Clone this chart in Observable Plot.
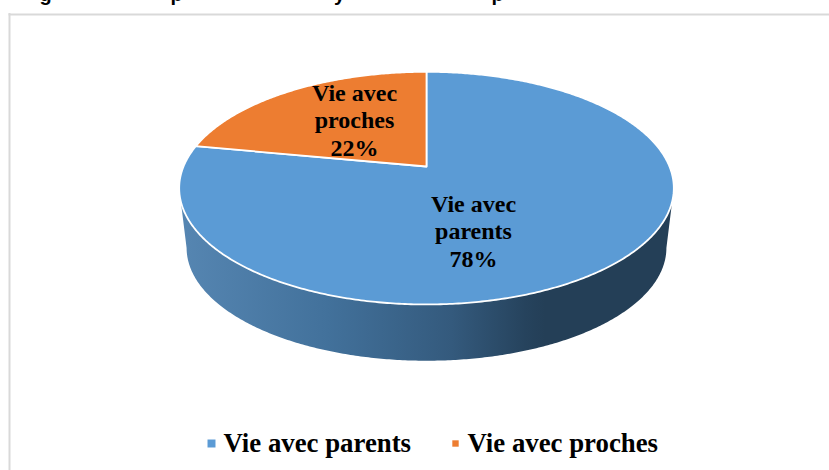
<!DOCTYPE html>
<html>
<head>
<meta charset="utf-8">
<script src="https://cdn.jsdelivr.net/npm/d3@7"></script>
<script src="https://cdn.jsdelivr.net/npm/@observablehq/plot@0.6"></script>
<style>html,body{margin:0;padding:0;background:#fff}svg{display:block}</style>
</head>
<body>
<div id="chart"></div>
<script>
// Data
const names = ["Vie avec parents", "Vie avec proches"];
const values = [78, 22];
const labelLines = [["Vie avec", "parents"], ["Vie avec", "proches"]];
const colors = ["#5b9bd5", "#ed7d31"];
// The title is cropped by the top of the picture: only these descenders show.
const titleGlyphs = ["g", "p", "y", "p"];
const titleGlyphX = [45, 176, 339, 497];

// Layout
const W = 829, H = 470;
const cx = 426, cy = 166;     // point where the slices meet
const A = 243, B = 112.3, P = 0.186;   // tilted-disc projection
const depthShift = 60.4, depthScale = 0.97;
const labelAt = [[473, 230], [354, 119]];
const legendSwatchX = [211, 455], legendTextX = [223, 467], legendY = 443;
const serif = "'Liberation Serif','Times New Roman',serif";

function rim(theta, scale = 1, shift = 0, radius = 1) {
  const u = radius * Math.sin(theta), v = radius * Math.cos(theta), d = 1 + P * v;
  return {x: cx + scale * A * u / d, y: cy + shift - scale * B * v / d};
}

const total = d3.sum(values);
let acc = 0;
const slices = values.map((v, i) => {
  const a0 = acc / total * 2 * Math.PI;
  acc += v;
  const a1 = acc / total * 2 * Math.PI;
  const n = Math.ceil((a1 - a0) / 0.01);
  const pts = [rim(0, 1, 0, 0)];
  for (let k = 0; k <= n; k++) pts.push(rim(a0 + (a1 - a0) * k / n));
  pts.push(rim(0, 1, 0, 0));
  return {pts, color: colors[i]};
});

const t0 = Math.acos(-P), t1 = 2 * Math.PI - t0;
const wall = [];
for (let k = 0; k <= 300; k++) wall.push(rim(t0 + (t1 - t0) * k / 300));
for (let k = 300; k >= 0; k--) wall.push(rim(t0 + (t1 - t0) * k / 300, depthScale, depthShift));

const lineProps = {x: "x", y: "y", curve: "linear"};
const labels = values.map((v, i) => ({
  x: labelAt[i][0], y: labelAt[i][1],
  text: [...labelLines[i], `${v}%`].join("\n")
}));

const defs = () => {
  const d = d3.create("svg:defs");
  const g = d.append("linearGradient").attr("id", "wallGrad");
  [[0, "#5686b2"], [0.3, "#42719b"], [0.55, "#345a7d"], [0.7, "#26435d"], [0.74, "#243f57"], [1, "#243f57"]]
    .forEach(([o, c]) => g.append("stop").attr("offset", o).attr("stop-color", c));
  return d.node();
};

const chart = Plot.plot({
  width: W, height: H,
  marginTop: 0, marginRight: 0, marginBottom: 0, marginLeft: 0,
  x: {domain: [0, W], range: [0, W], axis: null},
  y: {domain: [0, H], range: [0, H], axis: null},
  style: {background: "#fff"},
  marks: [
    defs,
    Plot.ruleY([14], {x1: 8.5, x2: W, stroke: "#d9d9d9", strokeWidth: 2}),
    Plot.ruleX([9], {y1: 13, y2: H, stroke: "#d9d9d9", strokeWidth: 2}),
    Plot.text(titleGlyphs, {
      x: (d, i) => titleGlyphX[i], y: 0, text: d => d, fontSize: 20, fontWeight: "bold",
      fontFamily: "'Liberation Sans',Arial,sans-serif", fill: "#000", lineAnchor: "bottom", dy: 0
    }),
    Plot.line(wall, {...lineProps, fill: "url(#wallGrad)", stroke: "none"}),
    ...slices.map(s => Plot.line(s.pts, {...lineProps, fill: s.color, stroke: "#fff", strokeWidth: 1.8})),
    Plot.text(labels, {
      x: "x", y: "y", text: "text", fontSize: 24, fontWeight: "bold", fontFamily: serif,
      fill: "#000", lineHeight: 1.15, textAnchor: "middle"
    }),
    ...names.map((n, i) => Plot.dot([n], {
      x: () => legendSwatchX[i], y: () => legendY, symbol: "square", r: i === 0 ? 4.5 : 3.6,
      fill: colors[i], stroke: "none"
    })),
    Plot.text(names, {
      x: (d, i) => legendTextX[i], y: () => legendY, text: d => d, fontSize: 26.8, fontWeight: "bold",
      fontFamily: serif, fill: "#000", textAnchor: "start"
    })
  ]
});
document.getElementById("chart").append(chart);
</script>
</body>
</html>
